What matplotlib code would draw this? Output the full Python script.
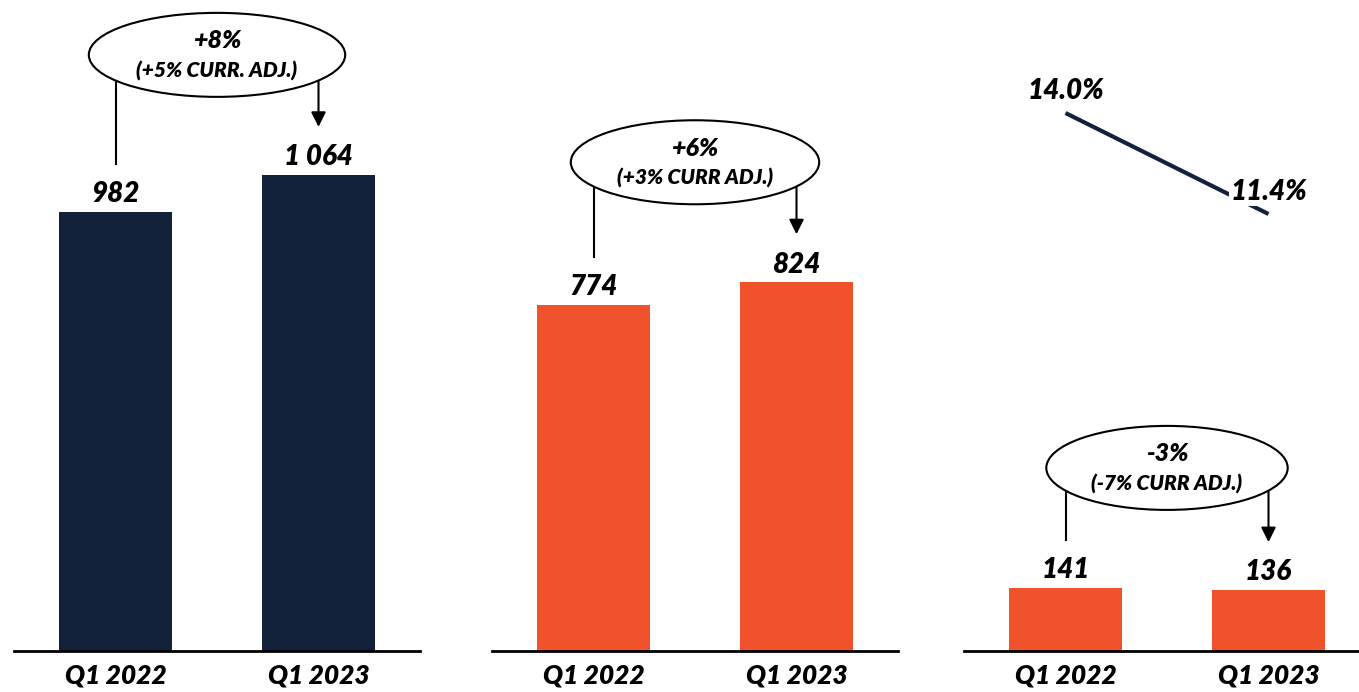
import matplotlib
matplotlib.use("Agg")
import matplotlib.pyplot as plt
from matplotlib.patches import Ellipse
import numpy as np

# --- Valeurs ---
trimestres = ["Q1 2022", "Q1 2023"]
ventes = [982, 1064]
marge_brute = [774, 824]
resultat = [141, 136]
marge_pct = [14.0, 11.4]

variations = ["+8%", "+6%", "-3%"]
variations_adj = ["(+5% CURR. ADJ.)", "(+3% CURR ADJ.)", "(-7% CURR ADJ.)"]

NAVY = "#13213A"
ORANGE = "#F0522C"
FONT = "Lato"

W, H = 1359, 692
BASE = 651          # ligne de base en pixels (depuis le haut)
PX_UNIT = 0.4475    # pixels par unité de valeur
PX_CAT = 203.5      # pixels entre deux barres
YMAX = BASE / PX_UNIT

fig = plt.figure(figsize=(W / 100, H / 100), dpi=100)


def panneau(x0, valeurs, couleur, var, var_adj, ell_w):
    ax = fig.add_axes([x0 / W, (H - BASE) / H, 406 / W, BASE / H])
    x = np.arange(len(valeurs))
    ax.bar(x, valeurs, width=0.555, color=couleur)
    ax.set_xlim(-0.5, 1.5)
    ax.set_ylim(0, YMAX)
    for s in ["top", "right", "left"]:
        ax.spines[s].set_visible(False)
    ax.spines["bottom"].set_linewidth(2)
    ax.set_yticks([])
    ax.set_xticks(x, trimestres)
    ax.tick_params(axis="x", length=0, pad=9)
    for lab in ax.get_xticklabels():
        lab.set_fontfamily(FONT)
        lab.set_fontsize(19)
        lab.set_fontweight("heavy")
        lab.set_fontstyle("italic")

    # étiquettes de valeur
    for xi, v in zip(x, valeurs):
        txt = f"{v:,}".replace(",", " ")
        ax.annotate(txt, (xi, v), xytext=(0, 7), textcoords="offset points",
                    ha="center", va="baseline", fontsize=20, family=FONT,
                    fontweight="heavy", style="italic", color="black")

    # bulle de variation
    top = max(valeurs)
    cy = top + 120 / PX_UNIT
    ew = ell_w / PX_CAT
    eh = 84 / PX_UNIT
    ax.add_patch(Ellipse((0.5, cy), ew, eh, facecolor="white",
                         edgecolor="black", lw=1.5, zorder=3))
    ax.text(0.5, cy + 14 / PX_UNIT, var, ha="center", va="center",
            fontsize=18, family=FONT, fontweight="heavy", style="italic", zorder=4)
    ax.text(0.5, cy - 16 / PX_UNIT, var_adj, ha="center", va="center",
            fontsize=15, family=FONT, fontweight="heavy", style="italic", zorder=4)

    # point de départ sur le bord de l'ellipse
    def bord(xi):
        dx = (xi - 0.5) / (ew / 2)
        return cy - (eh / 2) * np.sqrt(max(0.0, 1 - dx ** 2))

    ax.plot([0, 0], [bord(0), valeurs[0] + 48 / PX_UNIT], color="black",
            lw=1.5, zorder=2)
    ax.annotate("", xy=(1, valeurs[1] + 48 / PX_UNIT), xytext=(1, bord(1)),
                arrowprops=dict(arrowstyle="-|>", color="black", lw=1.5,
                                mutation_scale=22, shrinkA=0, shrinkB=0),
                zorder=2)
    return ax


panneau(14, ventes, NAVY, variations[0], variations_adj[0], 257)
panneau(492, marge_brute, ORANGE, variations[1], variations_adj[1], 249)
ax3 = panneau(964, resultat, ORANGE, variations[2], variations_adj[2], 242)

# marge en % sur axe secondaire
ax3b = ax3.twinx()
px_pct = 101 / 2.6
bas = marge_pct[0] - (BASE - 113) / px_pct
ax3b.set_ylim(bas, bas + BASE / px_pct)
ax3b.axis("off")
ax3b.plot([0, 1], marge_pct, color=NAVY, lw=3, solid_capstyle="butt")
for xi, m in zip([0, 1], marge_pct):
    ax3b.annotate(f"{m:.1f}%", (xi, m), xytext=(0, 10), textcoords="offset points",
                  ha="center", va="baseline", fontsize=20, family=FONT,
                  fontweight="heavy", style="italic",
                  bbox=dict(facecolor="white", edgecolor="none", pad=1))

fig.savefig("out.png", dpi=100)
